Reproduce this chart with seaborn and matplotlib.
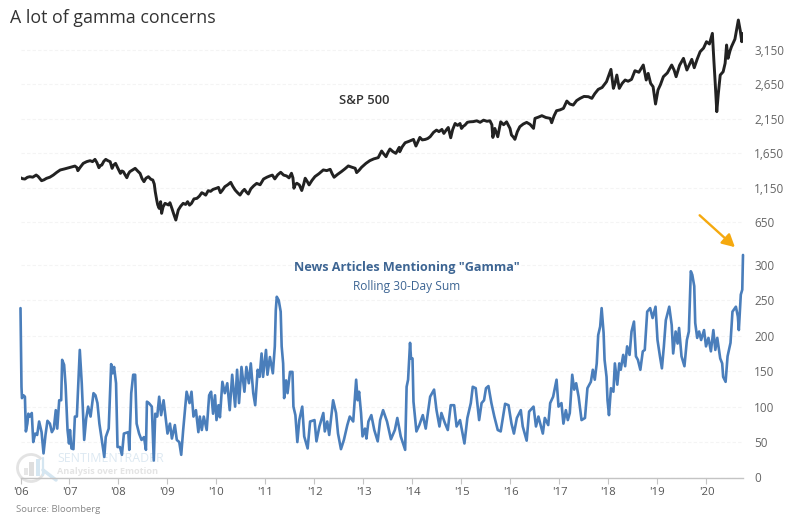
import matplotlib
matplotlib.use("Agg")
import matplotlib.pyplot as plt
from matplotlib.patches import Arc, Rectangle
import pandas as pd
import seaborn as sns

# S&P 500
spx_years = [2006.00, 2006.04, 2006.09, 2006.14, 2006.19, 2006.25, 2006.32, 2006.36, 2006.43, 2006.48,
             2006.53, 2006.60, 2006.67, 2006.74, 2006.81, 2006.90, 2007.01, 2007.06, 2007.11, 2007.15,
             2007.17, 2007.22, 2007.28, 2007.35, 2007.42, 2007.47, 2007.52, 2007.56, 2007.60, 2007.63,
             2007.66, 2007.70, 2007.74, 2007.78, 2007.83, 2007.87, 2007.90, 2007.94, 2007.98, 2008.04,
             2008.07, 2008.10, 2008.13, 2008.17, 2008.20, 2008.23, 2008.29, 2008.34, 2008.39, 2008.44,
             2008.48, 2008.52, 2008.56, 2008.61, 2008.66, 2008.70, 2008.73, 2008.75, 2008.78, 2008.80,
             2008.83, 2008.86, 2008.88, 2008.91, 2008.95, 2009.02, 2009.05, 2009.09, 2009.13, 2009.17,
             2009.20, 2009.22, 2009.27, 2009.32, 2009.37, 2009.41, 2009.45, 2009.49, 2009.54, 2009.60,
             2009.65, 2009.70, 2009.74, 2009.78, 2009.83, 2009.88, 2009.93, 2010.00, 2010.04, 2010.08,
             2010.12, 2010.17, 2010.23, 2010.29, 2010.33, 2010.38, 2010.43, 2010.48, 2010.53, 2010.57,
             2010.61, 2010.65, 2010.70, 2010.76, 2010.82, 2010.89, 2010.96, 2011.03, 2011.09, 2011.14,
             2011.19, 2011.25, 2011.31, 2011.37, 2011.43, 2011.48, 2011.53, 2011.56, 2011.58, 2011.61,
             2011.64, 2011.69, 2011.74, 2011.78, 2011.81, 2011.85, 2011.89, 2011.95, 2012.01, 2012.09,
             2012.18, 2012.25, 2012.32, 2012.36, 2012.40, 2012.47, 2012.55, 2012.62, 2012.69, 2012.76,
             2012.83, 2012.86, 2012.91, 2012.96, 2013.05, 2013.13, 2013.21, 2013.30, 2013.37, 2013.41,
             2013.46, 2013.50, 2013.54, 2013.60, 2013.66, 2013.73, 2013.74, 2013.79, 2013.85, 2013.93,
             2014.02, 2014.07, 2014.15, 2014.20, 2014.26, 2014.31, 2014.36, 2014.43, 2014.49, 2014.54,
             2014.60, 2014.64, 2014.69, 2014.73, 2014.78, 2014.82, 2014.87, 2014.92, 2014.97, 2015.00,
             2015.04, 2015.07, 2015.12, 2015.17, 2015.24, 2015.31, 2015.38, 2015.45, 2015.52, 2015.58,
             2015.62, 2015.64, 2015.68, 2015.74, 2015.80, 2015.86, 2015.92, 2015.99, 2016.02, 2016.06,
             2016.09, 2016.14, 2016.19, 2016.26, 2016.33, 2016.40, 2016.47, 2016.50, 2016.57, 2016.64,
             2016.72, 2016.81, 2016.84, 2016.89, 2016.94, 2017.01, 2017.08, 2017.15, 2017.21, 2017.28,
             2017.35, 2017.42, 2017.50, 2017.59, 2017.66, 2017.72, 2017.79, 2017.87, 2017.96, 2018.05,
             2018.08, 2018.10, 2018.13, 2018.17, 2018.22, 2018.28, 2018.34, 2018.40, 2018.47, 2018.54,
             2018.62, 2018.71, 2018.77, 2018.81, 2018.86, 2018.91, 2018.96, 2019.01, 2019.06, 2019.12,
             2019.20, 2019.29, 2019.34, 2019.38, 2019.45, 2019.53, 2019.60, 2019.65, 2019.70, 2019.75,
             2019.81, 2019.87, 2019.94, 2020.00, 2020.06, 2020.12, 2020.15, 2020.18, 2020.21, 2020.24,
             2020.28, 2020.34, 2020.38, 2020.41, 2020.44, 2020.48, 2020.51, 2020.58, 2020.65, 2020.69,
             2020.72, 2020.745]
spx_values = [1292, 1278, 1273, 1298, 1307, 1300, 1331, 1310, 1249, 1262,
              1283, 1300, 1331, 1370, 1404, 1420, 1442, 1452, 1461, 1440,
              1394, 1445, 1500, 1525, 1539, 1525, 1558, 1510, 1437, 1470,
              1476, 1530, 1558, 1540, 1524, 1428, 1475, 1500, 1440, 1355,
              1390, 1379, 1340, 1292, 1345, 1379, 1405, 1428, 1390, 1355,
              1280, 1235, 1285, 1307, 1270, 1259, 1200, 1090, 969, 900,
              848, 945, 776, 870, 921, 897, 930, 848, 760, 679,
              770, 824, 880, 921, 905, 945, 895, 921, 985, 993,
              1025, 1075, 1060, 1040, 1104, 1095, 1123, 1140, 1152, 1075,
              1110, 1162, 1190, 1225, 1170, 1114, 1075, 1041, 1095, 1123,
              1085, 1056, 1130, 1175, 1210, 1190, 1273, 1300, 1318, 1330,
              1275, 1335, 1371, 1330, 1318, 1290, 1357, 1290, 1140, 1195,
              1212, 1188, 1107, 1200, 1285, 1240, 1188, 1255, 1309, 1350,
              1405, 1395, 1414, 1350, 1299, 1340, 1381, 1420, 1463, 1445,
              1429, 1366, 1400, 1443, 1500, 1540, 1565, 1583, 1679, 1640,
              1597, 1660, 1708, 1670, 1645, 1732, 1669, 1740, 1799, 1820,
              1847, 1751, 1876, 1840, 1847, 1860, 1886, 1950, 1982, 1960,
              1992, 1934, 1985, 2020, 1871, 1990, 2078, 2050, 2078, 2006,
              2040, 2054, 2095, 2102, 2105, 2117, 2095, 2126, 2110, 2117,
              2060, 1876, 2006, 1886, 2102, 2060, 2102, 2006, 1911, 1880,
              1848, 1960, 2031, 2070, 2094, 2065, 2007, 2152, 2170, 2191,
              2165, 2152, 2089, 2190, 2263, 2275, 2297, 2403, 2360, 2345,
              2410, 2442, 2470, 2466, 2442, 2510, 2572, 2600, 2684, 2862,
              2700, 2587, 2650, 2780, 2587, 2660, 2708, 2690, 2717, 2843,
              2820, 2925, 2708, 2804, 2659, 2611, 2360, 2563, 2640, 2756,
              2810, 2925, 2850, 2756, 2920, 3022, 2853, 2930, 3007, 2886,
              3010, 3118, 3170, 3263, 3230, 3384, 2997, 2640, 2249, 2500,
              2780, 2828, 2950, 3215, 3022, 3130, 3191, 3300, 3577, 3420,
              3263, 3384]

# news articles mentioning "gamma", rolling 30-day sum
gamma_years = [2006.00, 2006.02, 2006.03, 2006.06, 2006.09, 2006.11, 2006.14, 2006.16, 2006.19, 2006.23,
               2006.26, 2006.30, 2006.34, 2006.38, 2006.43, 2006.47, 2006.51, 2006.55, 2006.60, 2006.64,
               2006.68, 2006.72, 2006.75, 2006.79, 2006.83, 2006.85, 2006.89, 2006.92, 2006.96, 2006.99,
               2007.01, 2007.04, 2007.08, 2007.11, 2007.15, 2007.19, 2007.21, 2007.25, 2007.30, 2007.34,
               2007.38, 2007.43, 2007.49, 2007.53, 2007.57, 2007.61, 2007.66, 2007.71, 2007.74, 2007.80,
               2007.85, 2007.88, 2007.91, 2007.95, 2007.98, 2008.03, 2008.07, 2008.11, 2008.20, 2008.22,
               2008.26, 2008.30, 2008.34, 2008.37, 2008.42, 2008.47, 2008.52, 2008.56, 2008.58, 2008.62,
               2008.68, 2008.72, 2008.75, 2008.79, 2008.83, 2008.87, 2008.92, 2008.96, 2009.00, 2009.05,
               2009.09, 2009.15, 2009.19, 2009.24, 2009.28, 2009.32, 2009.39, 2009.45, 2009.49, 2009.53,
               2009.58, 2009.63, 2009.66, 2009.70, 2009.74, 2009.80, 2009.85, 2009.89, 2009.93, 2009.97,
               2010.00, 2010.04, 2010.07, 2010.12, 2010.17, 2010.22, 2010.27, 2010.32, 2010.38, 2010.42,
               2010.46, 2010.51, 2010.57, 2010.61, 2010.66, 2010.70, 2010.75, 2010.79, 2010.84, 2010.88,
               2010.92, 2010.95, 2011.01, 2011.04, 2011.09, 2011.15, 2011.19, 2011.21, 2011.23, 2011.27,
               2011.31, 2011.33, 2011.36, 2011.38, 2011.42, 2011.45, 2011.50, 2011.55, 2011.57, 2011.61,
               2011.65, 2011.69, 2011.75, 2011.79, 2011.86, 2011.91, 2012.00, 2012.04, 2012.10, 2012.18,
               2012.21, 2012.26, 2012.30, 2012.38, 2012.44, 2012.48, 2012.54, 2012.60, 2012.67, 2012.72,
               2012.79, 2012.85, 2012.88, 2012.91, 2012.95, 2012.98, 2013.03, 2013.06, 2013.10, 2013.16,
               2013.22, 2013.29, 2013.34, 2013.40, 2013.48, 2013.56, 2013.64, 2013.69, 2013.76, 2013.85,
               2013.88, 2013.91, 2013.95, 2013.97, 2014.00, 2014.02, 2014.08, 2014.14, 2014.21, 2014.27,
               2014.36, 2014.44, 2014.49, 2014.55, 2014.59, 2014.66, 2014.72, 2014.78, 2014.85, 2014.90,
               2014.97, 2015.06, 2015.12, 2015.19, 2015.23, 2015.29, 2015.36, 2015.41, 2015.46, 2015.50,
               2015.55, 2015.61, 2015.67, 2015.74, 2015.80, 2015.89, 2015.96, 2016.02, 2016.07, 2016.13,
               2016.21, 2016.25, 2016.33, 2016.38, 2016.47, 2016.52, 2016.57, 2016.66, 2016.70, 2016.77,
               2016.81, 2016.87, 2016.94, 2016.98, 2017.04, 2017.08, 2017.13, 2017.17, 2017.21, 2017.26,
               2017.30, 2017.34, 2017.39, 2017.45, 2017.52, 2017.57, 2017.64, 2017.68, 2017.72, 2017.76,
               2017.79, 2017.83, 2017.86, 2017.90, 2017.92, 2017.96, 2017.98, 2018.01, 2018.05, 2018.10,
               2018.13, 2018.18, 2018.22, 2018.25, 2018.30, 2018.34, 2018.38, 2018.43, 2018.47, 2018.52,
               2018.56, 2018.60, 2018.65, 2018.70, 2018.74, 2018.79, 2018.85, 2018.90, 2018.96, 2019.00,
               2019.05, 2019.09, 2019.13, 2019.17, 2019.24, 2019.29, 2019.32, 2019.37, 2019.41, 2019.44,
               2019.49, 2019.55, 2019.60, 2019.64, 2019.68, 2019.71, 2019.75, 2019.77, 2019.81, 2019.85,
               2019.89, 2019.95, 2019.99, 2020.04, 2020.09, 2020.14, 2020.18, 2020.22, 2020.28, 2020.32,
               2020.34, 2020.39, 2020.43, 2020.49, 2020.53, 2020.60, 2020.64, 2020.66, 2020.70, 2020.73,
               2020.745]
gamma_values = [239, 128, 112, 116, 114, 65, 76, 90, 86, 91,
                50, 62, 60, 79, 64, 34, 60, 80, 76, 64,
                69, 95, 69, 109, 109, 166, 159, 130, 67, 48,
                67, 41, 40, 86, 86, 147, 180, 133, 53, 83,
                100, 86, 119, 116, 105, 76, 53, 29, 57, 69,
                160, 147, 156, 133, 43, 43, 32, 62, 64, 39,
                119, 145, 145, 76, 62, 53, 57, 39, 107, 105,
                100, 24, 90, 86, 114, 88, 109, 86, 62, 76,
                55, 74, 53, 50, 32, 67, 121, 105, 121, 86,
                95, 64, 86, 67, 86, 67, 116, 121, 90, 116,
                81, 102, 85, 135, 119, 133, 95, 145, 100, 152,
                105, 156, 121, 156, 133, 161, 119, 102, 152, 142,
                175, 142, 180, 145, 170, 147, 185, 236, 255, 250,
                234, 185, 161, 112, 137, 119, 149, 149, 100, 88,
                50, 81, 100, 58, 41, 79, 81, 51, 72, 91,
                65, 79, 60, 109, 91, 62, 40, 53, 74, 86,
                79, 138, 109, 121, 91, 58, 69, 55, 79, 88,
                67, 51, 81, 95, 79, 54, 67, 84, 58, 39,
                128, 138, 190, 168, 168, 107, 65, 74, 88, 69,
                114, 124, 95, 72, 91, 77, 67, 102, 102, 72,
                81, 48, 84, 105, 128, 126, 81, 105, 109, 126,
                129, 105, 86, 67, 65, 104, 102, 76, 62, 84,
                95, 72, 52, 93, 100, 72, 86, 62, 84, 74,
                105, 114, 138, 100, 105, 76, 95, 81, 91, 145,
                124, 133, 114, 81, 84, 126, 135, 152, 138, 161,
                201, 213, 239, 204, 166, 142, 109, 88, 126, 121,
                161, 131, 161, 152, 173, 157, 185, 173, 206, 220,
                171, 166, 152, 178, 180, 234, 239, 225, 241, 194,
                171, 154, 185, 222, 241, 215, 175, 206, 189, 211,
                171, 157, 194, 206, 291, 286, 270, 218, 197, 206,
                194, 208, 185, 197, 178, 208, 180, 197, 168, 161,
                142, 135, 171, 190, 234, 241, 227, 208, 258, 265,
                314]

year_ticks = list(range(2006, 2021))
year_labels = ["'%02d" % (y - 2000) for y in year_ticks]
spx_ticks = [650, 1150, 1650, 2150, 2650, 3150]
gamma_ticks = [0, 50, 100, 150, 200, 250, 300]

W, H = 789, 530
LEFT, RIGHT = 20.5, 743

sns.set_style("white")
plt.rcParams["font.family"] = ["Open Sans", "DejaVu Sans"]

fig = plt.figure(figsize=(W / 100, H / 100), dpi=100)


def pane(top, bottom):
    ax = fig.add_axes([LEFT / W, 1 - bottom / H, (RIGHT - LEFT) / W, (bottom - top) / H], zorder=2)
    ax.patch.set_alpha(0)
    ax.set_xlim(2006, 2020.745)
    ax.yaxis.tick_right()
    ax.grid(axis="y", color="#f4f4f4", lw=0.8, ls=(0, (3, 2)))
    ax.tick_params(axis="y", length=0, pad=8, labelsize=8.5, labelcolor="#666666")
    for s in ax.spines.values():
        s.set_visible(False)
    return ax


# watermark goes underneath everything, drawn in pixel coords
bg = fig.add_axes([0, 0, 1, 1], zorder=0)
bg.set_xlim(0, W)
bg.set_ylim(H, 0)
bg.axis("off")
bg.add_patch(Arc((31, 468), 27, 27, theta1=20, theta2=320, color="#e3e3e3", lw=2))
bg.add_patch(Rectangle((24, 468), 4, 7, color="#e6e6e6", lw=0))
bg.add_patch(Rectangle((29, 462), 5, 14, color="#dedede", lw=0))
bg.add_patch(Rectangle((36, 459), 4, 17, color="#d5e6f1", lw=0))
bg.plot([43, 56], [470, 480], color="#d5e6f1", lw=2.5, solid_capstyle="round")
bg.plot([43, 43], [475, 458], color="#d5e6f1", lw=1.6)
bg.text(57, 458.5, "SENTIMENTRADER", fontsize=8.9, color="#dde9f2", va="center", ha="left")
bg.text(57, 471, "Analysis over Emotion", fontsize=6.6, color="#e4e4e4", va="center", ha="left",
        fontweight="bold")

# top pane, S&P 500
ax1 = pane(15, 225)
spx = pd.DataFrame({"year": spx_years, "value": spx_values})
sns.lineplot(data=spx, x="year", y="value", ax=ax1, color="#222222", lw=2.1, estimator=None, sort=False)
ax1.set_ylim(607, 3650)
ax1.set_yticks(spx_ticks)
ax1.set_yticklabels([f"{v:,}" for v in spx_ticks])
ax1.set_xticks([])
ax1.set_xlabel("")
ax1.set_ylabel("")
ax1.text(2013.01, 2418, "S&P 500", fontsize=9.4, color="#333333", ha="center", va="center", fontweight="semibold")

# bottom pane, gamma articles
ax2 = pane(250, 477.5)
gamma = pd.DataFrame({"year": gamma_years, "value": gamma_values})
sns.lineplot(data=gamma, x="year", y="value", ax=ax2, color="#4a7ebb", lw=1.9, estimator=None, sort=False,
             clip_on=False)
ax2.set_ylim(0, 321)
ax2.set_yticks(gamma_ticks)
ax2.set_xticks(year_ticks)
ax2.set_xticklabels(year_labels)
ax2.set_xlabel("")
ax2.set_ylabel("")
ax2.spines["bottom"].set_visible(True)
ax2.spines["bottom"].set_color("#c4c4c4")
ax2.spines["bottom"].set_linewidth(1)
ax2.tick_params(axis="x", bottom=True, length=4, width=0.8, color="#c4c4c4", pad=3, labelsize=8.2,
                labelcolor="#555555")
ax2.set_axisbelow(True)

ax2.text(2013.89, 296, 'News Articles Mentioning "Gamma"', fontsize=9.1, color="#3d6593", ha="center", va="center",
         fontweight="bold")
ax2.text(2013.89, 270, "Rolling 30-Day Sum", fontsize=8.6, color="#3d6593", ha="center", va="center")

# arrow pointing at the latest reading
ax2.annotate("", xy=(2020.58, 325), xytext=(2019.86, 370), annotation_clip=False,
             arrowprops=dict(arrowstyle="-|>,head_width=0.4,head_length=0.75", color="#f5a90f", lw=1.7,
                             shrinkA=0, shrinkB=0))

fig.text(9.5 / W, 1 - 18 / H, "A lot of gamma concerns", fontsize=12.8, color="#333333", va="center", ha="left")
fig.text(16 / W, 1 - 509 / H, "Source: Bloomberg", fontsize=6.8, color="#888888", va="center", ha="left")

fig.savefig("out.png", dpi=100)
